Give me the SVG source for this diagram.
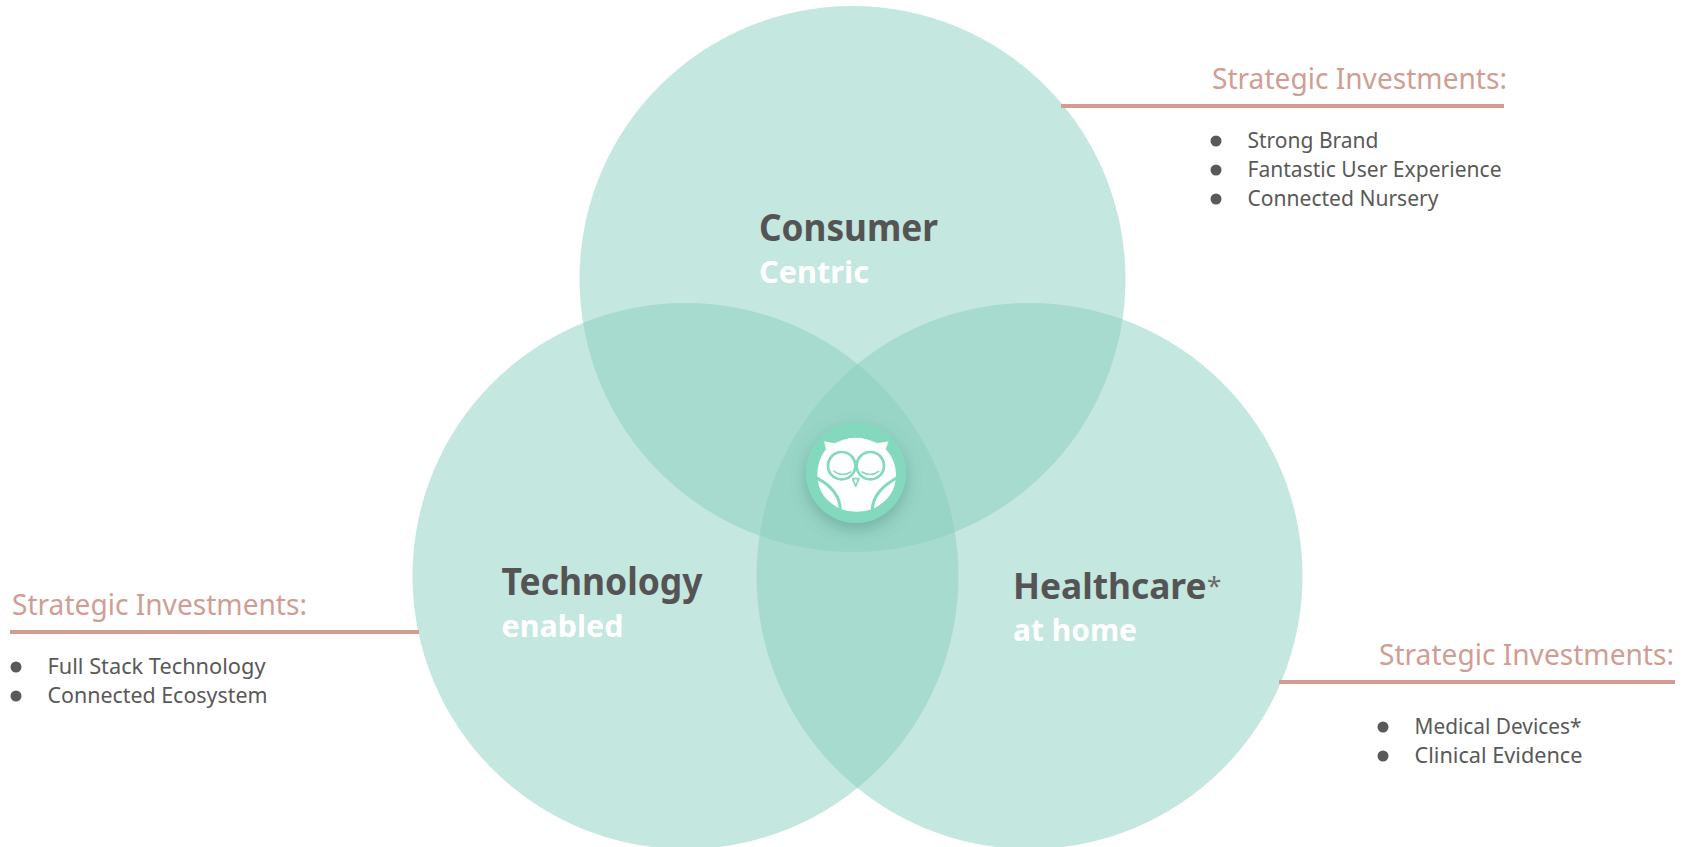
<svg xmlns="http://www.w3.org/2000/svg" width="1688" height="847" viewBox="0 0 1688 847">
<style>
text{font-family:"Noto Sans","Open Sans","Liberation Sans",sans-serif}
.c{fill:#8acfbf;fill-opacity:.5}
.si{font-size:29px;fill:#d19d93}
.b{font-size:22px;fill:#595959}
.h{font-size:37px;font-weight:700;fill:#545454}
.s{font-size:31px;font-weight:700;fill:#fff}
.r{fill:#d19d93}
.d{fill:#595959}
.g{fill:none;stroke:#83d9bd;stroke-linecap:round}
</style>
<defs><filter id="sh" x="-40%" y="-40%" width="180%" height="180%"><feDropShadow dx="0" dy="6" stdDeviation="8" flood-color="#3a7a6a" flood-opacity=".4"/></filter></defs>
<g id="consumer"><circle class="c" cx="852.500" cy="279" r="273"/>
<text class="h" x="759" y="241" textLength="179" lengthAdjust="spacingAndGlyphs">Consumer</text>
<text class="s" x="759" y="283" textLength="110" lengthAdjust="spacingAndGlyphs">Centric</text></g>
<g id="technology"><circle class="c" cx="685.500" cy="576" r="273"/>
<text class="h" x="501.500" y="595" textLength="201" lengthAdjust="spacingAndGlyphs">Technology</text>
<text class="s" x="501.500" y="637" textLength="122" lengthAdjust="spacingAndGlyphs">enabled</text></g>
<g id="healthcare"><circle class="c" cx="1029.500" cy="576" r="273"/>
<text class="h" x="1013" y="599" style="font-size:35.300px">Healthcare</text>
<text x="1207" y="595" font-size="26" fill="#6a6a6a">*</text>
<text class="s" x="1013" y="641" textLength="124" lengthAdjust="spacingAndGlyphs">at home</text></g>
<g id="owl">
<circle cx="856" cy="473" r="50" fill="#83d9bd" filter="url(#sh)"/>
<g transform="translate(760 400) scale(.3333)">
<path fill="#fff" d="M192 124L224 130Q287 96 352 130L386 124L377 147Q408 180 408 225Q408 292 340 326Q290 345 240 326Q172 292 172 225Q172 180 198 147Z"/>
<path class="g" stroke-width="9" d="M172 235C210 255 240 285 241 330M408 235C370 258 338 285 337 330"/>
<circle class="g" stroke-width="8" cx="245" cy="197" r="41"/>
<circle class="g" stroke-width="8" cx="331" cy="197" r="41"/>
<path class="g" stroke-width="5" d="M222 214Q248 232 272 216M306 216Q332 232 356 214"/>
<path class="g" stroke-width="5" style="fill:#fff" stroke-linejoin="round" d="M278 236H297L287 259Z"/>
</g></g>
<g id="connectors">
<rect class="r" x="1061" y="104" width="443" height="4"/>
<rect class="r" x="10" y="630" width="409" height="4"/>
<rect class="r" x="1279" y="680" width="396" height="4"/>
</g>
<g id="invest-consumer">
<text class="si" x="1212" y="89" textLength="295" lengthAdjust="spacingAndGlyphs">Strategic Investments:</text>
<circle class="d" cx="1216" cy="141" r="5.500"/><text class="b" x="1247.500" y="148" textLength="131" lengthAdjust="spacingAndGlyphs">Strong Brand</text>
<circle class="d" cx="1216" cy="170" r="5.500"/><text class="b" x="1247.500" y="177" textLength="254" lengthAdjust="spacingAndGlyphs">Fantastic User Experience</text>
<circle class="d" cx="1216" cy="199" r="5.500"/><text class="b" x="1247.500" y="205.500" textLength="191" lengthAdjust="spacingAndGlyphs">Connected Nursery</text>
</g>
<g id="invest-technology">
<text class="si" x="12" y="615" textLength="295" lengthAdjust="spacingAndGlyphs">Strategic Investments:</text>
<circle class="d" cx="16" cy="667" r="5.500"/><text class="b" x="47.500" y="674" textLength="218" lengthAdjust="spacingAndGlyphs">Full Stack Technology</text>
<circle class="d" cx="16" cy="696" r="5.500"/><text class="b" x="47.500" y="703" textLength="220" lengthAdjust="spacingAndGlyphs">Connected Ecosystem</text>
</g>
<g id="invest-healthcare">
<text class="si" x="1379" y="665" textLength="295" lengthAdjust="spacingAndGlyphs">Strategic Investments:</text>
<circle class="d" cx="1383" cy="727" r="5.500"/><text class="b" x="1414.500" y="734" textLength="167" lengthAdjust="spacingAndGlyphs">Medical Devices*</text>
<circle class="d" cx="1383" cy="756" r="5.500"/><text class="b" x="1414.500" y="763" textLength="168" lengthAdjust="spacingAndGlyphs">Clinical Evidence</text>
</g>
</svg>
